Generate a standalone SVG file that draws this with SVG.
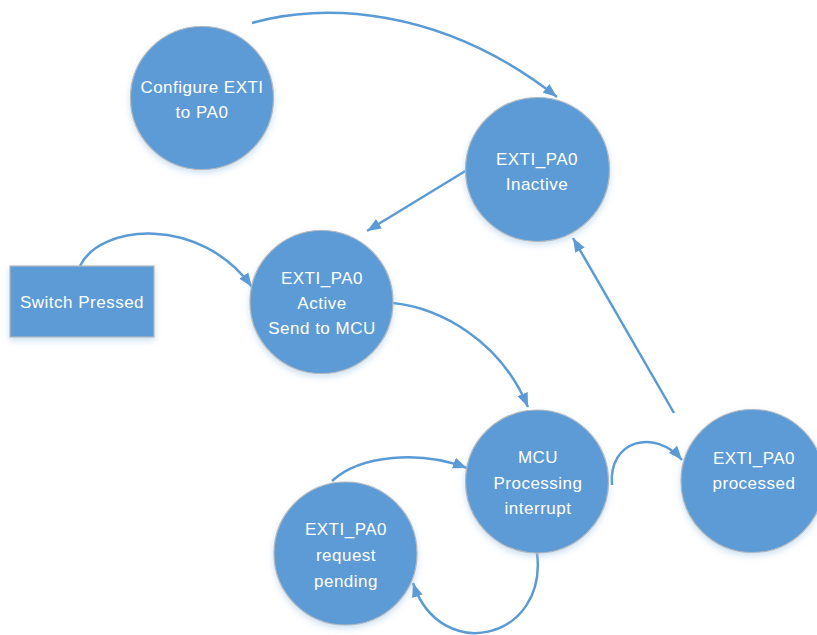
<svg xmlns="http://www.w3.org/2000/svg" width="817" height="635" viewBox="0 0 817 635">
<style>
.node{fill:#5b9bd5;stroke:#b4b8bc;stroke-width:1.2;filter:url(#sh)}
.lbl{font-family:"Liberation Sans",Arial,sans-serif;font-size:17px;fill:#ffffff;text-anchor:middle;letter-spacing:0.5px}
.conn{fill:none;stroke:#5b9bd5;stroke-width:2.5;marker-end:url(#arr)}
</style>
<defs>
<filter id="sh" x="-20%" y="-20%" width="140%" height="150%">
<feDropShadow dx="0" dy="3" stdDeviation="3" flood-color="#9dc3e6" flood-opacity="0.5"/>
</filter>
<marker id="arr" markerUnits="userSpaceOnUse" markerWidth="15" markerHeight="12" refX="14" refY="6" orient="auto">
<path d="M0,0.5 L14,6 L0,11.5 z" fill="#5b9bd5"/>
</marker>
</defs>
<rect width="817" height="635" fill="#ffffff"/>
<g id="connectors">
<path class="conn" d="M252,23 C320,3 440,5 557,97"/>
<path class="conn" d="M467,170 L367,231"/>
<path class="conn" d="M80,266 C100,224 200,215 252,287"/>
<path class="conn" d="M393,303 C440,308 500,340 528,407"/>
<path class="conn" d="M612,485 C608,440 655,428 682,460"/>
<path class="conn" d="M332,481 C360,455 420,450 467,468"/>
<path class="conn" d="M537,553 C548,640 440,665 413,583"/>
<path class="conn" d="M674,413 L573,238"/>
</g>
<g id="configure">
<circle class="node" cx="202" cy="98" r="71.5"/>
<text class="lbl" x="202" y="93">Configure EXTI</text>
<text class="lbl" x="202" y="118">to PA0</text>
</g>
<g id="inactive">
<circle class="node" cx="537.5" cy="169.5" r="72"/>
<text class="lbl" x="537" y="165">EXTI_PA0</text>
<text class="lbl" x="537" y="190">Inactive</text>
</g>
<g id="switch">
<rect class="node" x="10" y="266" width="144" height="71"/>
<text class="lbl" x="82" y="308">Switch Pressed</text>
</g>
<g id="active">
<circle class="node" cx="321.5" cy="302" r="71.5"/>
<text class="lbl" x="322" y="284">EXTI_PA0</text>
<text class="lbl" x="322" y="309">Active</text>
<text class="lbl" x="322" y="334">Send to MCU</text>
</g>
<g id="mcu">
<circle class="node" cx="537" cy="481.5" r="71.5"/>
<text class="lbl" x="538" y="463">MCU</text>
<text class="lbl" x="538" y="489">Processing</text>
<text class="lbl" x="538" y="514">interrupt</text>
</g>
<g id="processed">
<circle class="node" cx="752.5" cy="481" r="71.5"/>
<text class="lbl" x="754" y="464">EXTI_PA0</text>
<text class="lbl" x="754" y="489">processed</text>
</g>
<g id="pending">
<circle class="node" cx="345.5" cy="553.5" r="71.5"/>
<text class="lbl" x="346" y="535">EXTI_PA0</text>
<text class="lbl" x="346" y="561">request</text>
<text class="lbl" x="346" y="587">pending</text>
</g>
</svg>
